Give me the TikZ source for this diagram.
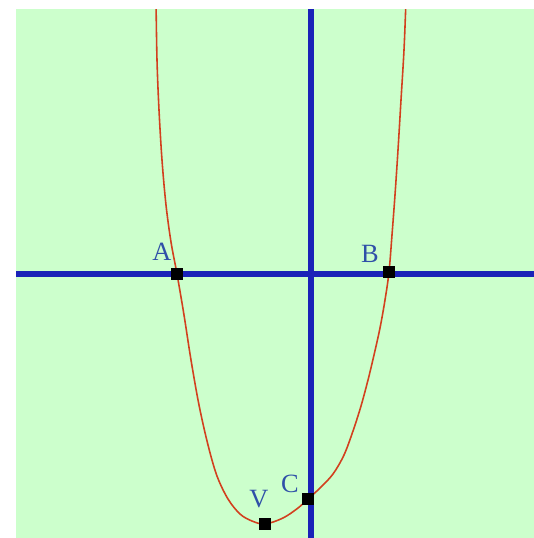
\documentclass[tikz,border=0pt]{standalone}
\usepackage{fontspec}
\setmainfont{Liberation Serif}
\definecolor{paper}{HTML}{CCFFCC}
\definecolor{axisblue}{HTML}{1A22B8}
\definecolor{labelblue}{HTML}{2F50A8}
\definecolor{curvered}{HTML}{D2401E}

\begin{document}
\begin{tikzpicture}[x=0.02cm, y=-0.02cm, every node/.style={font=\fontsize{15}{15}\selectfont}]
    \tikzset{pointmark/.style={fill=black,inner sep=0pt,minimum size=0.25cm},
      ptlabel/.style={text=labelblue,inner sep=0pt},
      axisline/.style={axisblue,line width=3.3pt}}
    \useasboundingbox (0,0) rectangle (534,538);
    \fill[paper] (16,9) rectangle (534,538);
    % axes
    \draw[axisline] (16,274) -- (534,274);
    \draw[axisline] (311,9) -- (311,538);
    % graph
    \begin{scope}
      \clip (16,9) rectangle (534,538);
      \draw[curvered,line width=0.9pt] plot[smooth,tension=0.55] coordinates {(156,0) (157,60) (159,110) (162,160) (166,205) (171,242) (177,274) (184,315) (191,360) (199,405) (208,445) (217,476) (228,499) (240,514) (252,521) (265,524) (283,518) (298,508) (308,499) (320,488) (333,474) (344,455) (353,431) (361,406) (368,380) (374,355) (380,328) (385,300) (389,272) (392,235) (395,195) (398,150) (401,100) (404,50) (406,0)};
    \end{scope}
    \node[pointmark] (A) at (177,274) {};
    \node[pointmark] (B) at (389,272) {};
    \node[pointmark] (C) at (308,499) {};
    \node[pointmark] (V) at (265,524) {};
    \node[ptlabel] (Alab) at (162,252) {A};
    \node[ptlabel] (Blab) at (370,254) {B};
    \node[ptlabel] (Clab) at (290,484) {C};
    \node[ptlabel] (Vlab) at (259,499) {V};
  \end{tikzpicture}
\end{document}
